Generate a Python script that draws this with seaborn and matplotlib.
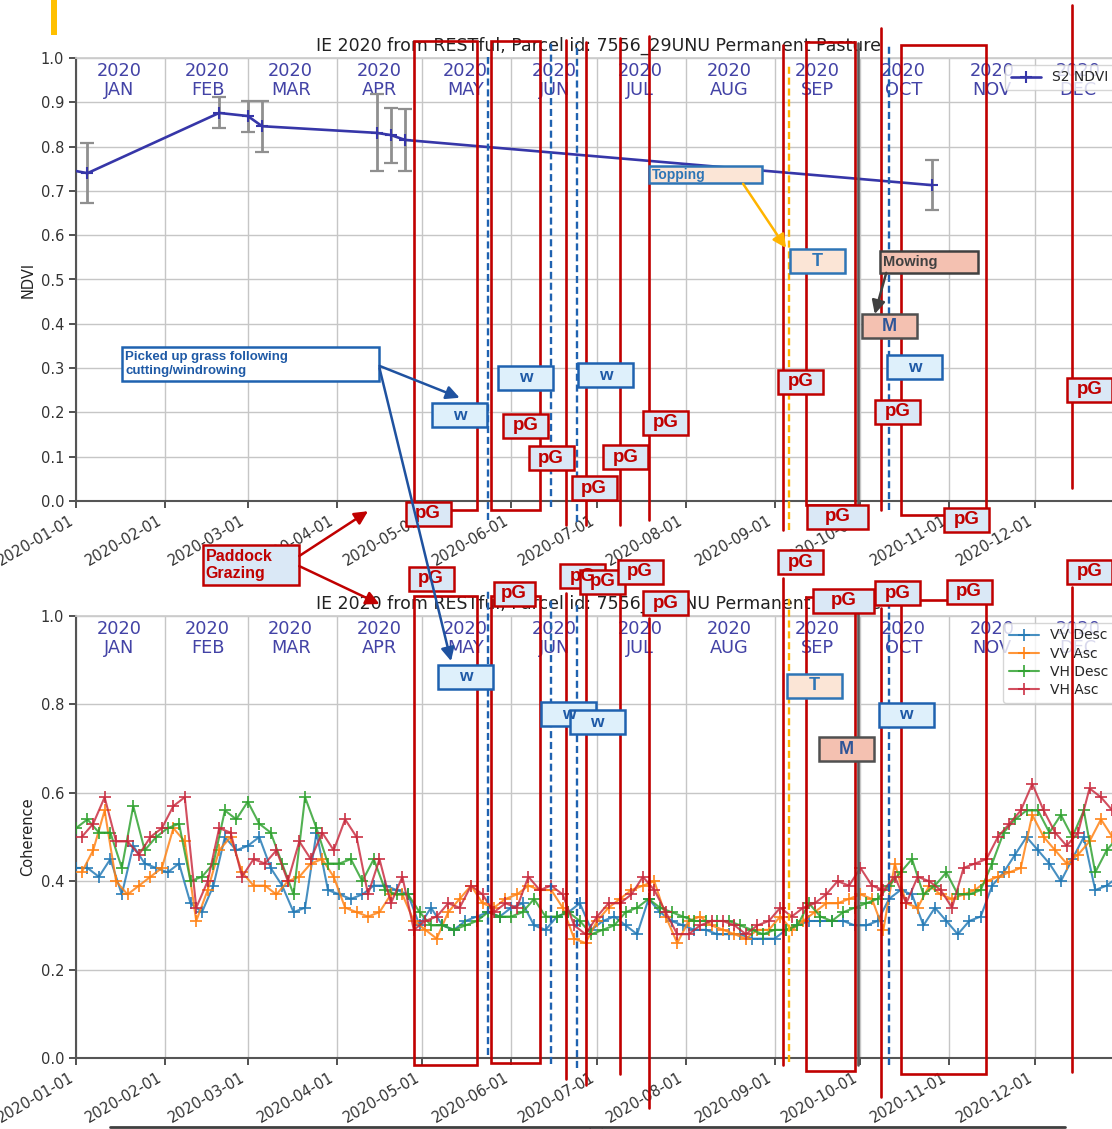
import numpy as np
import pandas as pd
import matplotlib
matplotlib.use("Agg")
import matplotlib.pyplot as plt
import matplotlib.dates as mdates
import matplotlib.transforms as mtransforms
from matplotlib.patches import Rectangle
from matplotlib.lines import Line2D
from matplotlib.ticker import FormatStrFormatter
import seaborn as sns

sns.set_theme(style="whitegrid")
plt.rcParams["font.family"] = ["DejaVu Sans"]

TITLE = "IE 2020 from RESTful, Parcel id: 7556_29UNU Permanent Pasture"
MONTHS = ["JAN", "FEB", "MAR", "APR", "MAY", "JUN",
          "JUL", "AUG", "SEP", "OCT", "NOV", "DEC"]

# ---- Sentinel-2 NDVI (parcel mean and std) ----
ndvi_dates = pd.to_datetime(["2019-12-26", "2020-01-05", "2020-02-20", "2020-03-01",
                             "2020-03-06", "2020-04-15", "2020-04-20", "2020-04-25",
                             "2020-10-26"])
ndvi_mean = [0.752, 0.740, 0.876, 0.869, 0.846, 0.831, 0.826, 0.815, 0.713]
ndvi_std = [0.060, 0.068, 0.035, 0.035, 0.058, 0.087, 0.062, 0.070, 0.057]

# ---- Sentinel-1 6-day coherence ----
desc_dates = pd.date_range("2020-01-01", periods=92, freq="4D")
asc_dates = pd.date_range("2020-01-03", periods=91, freq="4D")

vv_desc = [0.43, 0.43, 0.41, 0.45, 0.37, 0.48, 0.44, 0.43, 0.42, 0.44,
           0.35, 0.33, 0.39, 0.50, 0.47, 0.48, 0.50, 0.43, 0.39, 0.33,
           0.34, 0.51, 0.38, 0.37, 0.36, 0.37, 0.39, 0.39, 0.38, 0.37,
           0.30, 0.34, 0.30, 0.29, 0.31, 0.32, 0.33, 0.32, 0.34, 0.35,
           0.30, 0.29, 0.32, 0.33, 0.35, 0.29, 0.31, 0.32, 0.30, 0.28,
           0.36, 0.33, 0.31, 0.30, 0.29, 0.29, 0.28, 0.28, 0.28, 0.27,
           0.27, 0.27, 0.29, 0.30, 0.31, 0.31, 0.31, 0.31, 0.30, 0.30,
           0.31, 0.36, 0.38, 0.37, 0.30, 0.34, 0.31, 0.28, 0.31, 0.32,
           0.39, 0.42, 0.46, 0.50, 0.47, 0.44, 0.40, 0.45, 0.50, 0.38,
           0.39, 0.41]
vv_asc = [0.42, 0.47, 0.56, 0.40, 0.37, 0.39, 0.41, 0.43, 0.52, 0.49,
          0.31, 0.38, 0.47, 0.50, 0.42, 0.39, 0.39, 0.37, 0.40, 0.41,
          0.44, 0.45, 0.41, 0.34, 0.33, 0.32, 0.33, 0.37, 0.37, 0.31,
          0.29, 0.27, 0.33, 0.36, 0.39, 0.35, 0.34, 0.36, 0.37, 0.39,
          0.38, 0.38, 0.34, 0.27, 0.26, 0.31, 0.34, 0.36, 0.38, 0.39,
          0.40, 0.32, 0.26, 0.31, 0.32, 0.30, 0.29, 0.28, 0.27, 0.29,
          0.29, 0.32, 0.29, 0.31, 0.33, 0.35, 0.35, 0.36, 0.37, 0.36,
          0.29, 0.44, 0.35, 0.34, 0.39, 0.37, 0.36, 0.37, 0.38, 0.40,
          0.41, 0.42, 0.43, 0.55, 0.50, 0.47, 0.44, 0.46, 0.49, 0.54,
          0.50]
vh_desc = [0.52, 0.54, 0.51, 0.51, 0.43, 0.57, 0.47, 0.50, 0.52, 0.53,
           0.40, 0.41, 0.44, 0.56, 0.54, 0.58, 0.53, 0.51, 0.44, 0.37,
           0.59, 0.52, 0.44, 0.44, 0.45, 0.40, 0.45, 0.38, 0.37, 0.37,
           0.33, 0.30, 0.30, 0.29, 0.30, 0.31, 0.33, 0.32, 0.32, 0.33,
           0.36, 0.32, 0.32, 0.33, 0.31, 0.28, 0.29, 0.30, 0.33, 0.34,
           0.36, 0.34, 0.33, 0.32, 0.31, 0.31, 0.31, 0.31, 0.30, 0.29,
           0.28, 0.29, 0.29, 0.30, 0.35, 0.32, 0.31, 0.33, 0.34, 0.35,
           0.36, 0.39, 0.42, 0.45, 0.37, 0.39, 0.42, 0.37, 0.37, 0.38,
           0.44, 0.51, 0.54, 0.56, 0.56, 0.51, 0.55, 0.50, 0.56, 0.42,
           0.47, 0.50]
vh_asc = [0.50, 0.53, 0.59, 0.49, 0.49, 0.46, 0.50, 0.52, 0.57, 0.59,
          0.34, 0.40, 0.52, 0.51, 0.41, 0.45, 0.44, 0.47, 0.40, 0.49,
          0.45, 0.51, 0.47, 0.54, 0.50, 0.37, 0.45, 0.35, 0.41, 0.29,
          0.31, 0.32, 0.35, 0.34, 0.39, 0.37, 0.33, 0.35, 0.34, 0.41,
          0.38, 0.39, 0.37, 0.30, 0.28, 0.32, 0.35, 0.35, 0.37, 0.41,
          0.38, 0.33, 0.28, 0.28, 0.30, 0.31, 0.31, 0.30, 0.28, 0.30,
          0.31, 0.34, 0.32, 0.34, 0.35, 0.37, 0.40, 0.39, 0.43, 0.39,
          0.38, 0.41, 0.35, 0.41, 0.40, 0.38, 0.34, 0.43, 0.44, 0.45,
          0.50, 0.53, 0.56, 0.62, 0.56, 0.51, 0.48, 0.51, 0.61, 0.59,
          0.56]

coh_names = ["VV Desc", "VV Asc", "VH Desc", "VH Asc"]

# ---- field activity log ----
grazing_periods = [("2020-04-28", "2020-05-20"), ("2020-05-25", "2020-06-11"),
                   ("2020-09-12", "2020-09-29"), ("2020-10-15", "2020-11-14")]
grazing_days = ["2020-06-20", "2020-06-27", "2020-07-09", "2020-07-19",
                "2020-09-04", "2020-10-08", "2020-12-14"]
windrow_days = ["2020-05-24", "2020-06-15", "2020-06-24", "2020-10-11"]
topping_day = "2020-09-06"
mowing_day = "2020-09-30"

# ---- colours ----
NDVI_BLUE = "#3636a8"
MONTH_COL = "#4343a6"
RED = "#c00000"
WBLUE = "#1f62b0"
ORANGE = "#ffb400"
GREY = "#5a5a5a"
COH_COLORS = ["#1f77b4", "#ff7f0e", "#2ca02c", "#c8283c"]

DPI = 100
FW, FH = 1112, 1129
fig = plt.figure(figsize=(FW / DPI, FH / DPI), dpi=DPI)


def add_axes_px(left, top, right, bottom):
    return fig.add_axes([left / FW, 1 - bottom / FH,
                         (right - left) / FW, (bottom - top) / FH])


ax_ndvi = add_axes_px(76, 58, 1121, 501)
ax_coh = add_axes_px(76, 616, 1121, 1058)


def dn(d):
    return mdates.date2num(pd.Timestamp(d))


# ---- data ----
sns.lineplot(x=ndvi_dates, y=ndvi_mean, ax=ax_ndvi, color=NDVI_BLUE, lw=1.9,
             marker="+", ms=8, mec=NDVI_BLUE, mew=1.5, errorbar=None,
             label="S2 NDVI", zorder=4)
ax_ndvi.errorbar(ndvi_dates, ndvi_mean, yerr=ndvi_std, fmt="none",
                 ecolor="#8f8f8f", elinewidth=2, capsize=5, capthick=1.6,
                 zorder=3)

for vals, dates, name, col in zip([vv_desc, vv_asc, vh_desc, vh_asc],
                                  [desc_dates, asc_dates, desc_dates, asc_dates],
                                  coh_names, COH_COLORS):
    sns.lineplot(x=dates, y=vals, ax=ax_coh, color=col, lw=1.5, marker="+",
                 ms=9, mec=col, mew=1.4, alpha=0.82, errorbar=None,
                 label=name, zorder=3)

# ---- axes styling ----
for ax, ylab, yticks in [(ax_ndvi, "NDVI", np.arange(0, 1.01, 0.1)),
                         (ax_coh, "Coherence", np.arange(0, 1.01, 0.2))]:
    ax.set_xlim(dn("2020-01-01"), dn("2020-12-31"))
    ax.set_ylim(0, 1)
    ax.set_yticks(yticks)
    ax.yaxis.set_major_formatter(FormatStrFormatter("%.1f"))
    ax.xaxis.set_major_locator(mdates.MonthLocator())
    ax.xaxis.set_major_formatter(mdates.DateFormatter("%Y-%m-%d"))
    ax.tick_params(axis="both", labelsize=10.5, colors="#333333",
                   bottom=True, left=True, length=5, width=1.2)
    plt.setp(ax.get_xticklabels(), rotation=30, ha="right")
    ax.set_ylabel(ylab, fontsize=10.5, color="#222222")
    ax.set_xlabel("date", fontsize=10.5, color="#222222", labelpad=2)
    ax.set_title(TITLE, fontsize=12.5, color="#222222", pad=5)
    ax.grid(True, color="#c6c6c6", lw=1)
    for side in ("left", "bottom"):
        ax.spines[side].set_color("#555555")
        ax.spines[side].set_linewidth(1.5)
    for side in ("top", "right"):
        ax.spines[side].set_color("#cccccc")
    mtr = mtransforms.blended_transform_factory(ax.transData, ax.transAxes)
    for i, m in enumerate(MONTHS):
        ax.text(dn(pd.Timestamp(2020, i + 1, 16)), 0.99, f"2020\n{m}",
                transform=mtr, ha="center", va="top", fontsize=12.8,
                color=MONTH_COL, linespacing=1.05, zorder=2.5)

ax_ndvi.legend(loc="upper right", fontsize=10, framealpha=0.8,
               edgecolor="#cccccc", handlelength=2.2)
ax_coh.legend(loc="upper right", fontsize=10, framealpha=0.8,
              edgecolor="#cccccc", handlelength=2.2, labelspacing=0.3)

# ---- activity markers ----
def vline(ax, d, y0, y1, **kw):
    x = dn(d)
    ax.plot([x, x], [y0, y1], clip_on=False, **kw)


def span(ax, d0, d1, y0, y1):
    x0, x1 = dn(d0), dn(d1)
    ax.add_patch(Rectangle((x0, y0), x1 - x0, y1 - y0, fill=False,
                           edgecolor=RED, lw=1.9, clip_on=False, zorder=6))


red_kw = dict(color=RED, lw=1.9, zorder=6)
dash_kw = dict(color=WBLUE, lw=1.7, ls=(0, (3, 1.6)), zorder=6)
top_kw = dict(color=ORANGE, lw=1.7, ls=(0, (3, 1.6)), zorder=6)
mow_kw = dict(color=GREY, lw=1.9, zorder=6)

ndvi_span_y = [(-0.020, 1.038), (-0.020, 1.038), (-0.009, 1.036), (-0.032, 1.029)]
coh_span_y = [(-0.016, 1.045), (-0.011, 1.045), (-0.029, 1.043), (-0.036, 1.036)]
ndvi_graze_y = [(-0.054, 1.041), (-0.054, 1.036), (-0.054, 1.045), (-0.043, 1.050),
                (-0.065, 1.029), (-0.020, 1.068), (0.029, 1.120)]
coh_graze_y = [(-0.048, 1.052), (-0.061, 1.052), (-0.036, 1.059), (-0.113, 0.995),
               (-0.016, 1.086), (-0.088, 1.018), (-0.032, 1.066)]
ndvi_wind_y = [(-0.043, 1.002), (-0.014, 1.036), (-0.047, 1.034), (-0.020, 1.034)]
coh_wind_y = [(0.007, 1.063), (-0.014, 1.043), (-0.023, 1.025), (-0.016, 1.036)]

for ax, sy, gy, wy, ty, my in [
        (ax_ndvi, ndvi_span_y, ndvi_graze_y, ndvi_wind_y, (-0.065, 0.989), (-0.009, 1.034)),
        (ax_coh, coh_span_y, coh_graze_y, coh_wind_y, (-0.009, 1.045), (-0.016, 1.036))]:
    for (d0, d1), (y0, y1) in zip(grazing_periods, sy):
        span(ax, d0, d1, y0, y1)
    for d, (y0, y1) in zip(grazing_days, gy):
        vline(ax, d, y0, y1, **red_kw)
    for d, (y0, y1) in zip(windrow_days, wy):
        vline(ax, d, y0, y1, **dash_kw)
    vline(ax, topping_day, *ty, **top_kw)
    vline(ax, mowing_day, *my, **mow_kw)

# ---- labelled boxes ----
STYLES = {
    "pG": dict(face="#dae8f6", edge=RED, text=RED, size=13.5, w=45),
    "w": dict(face="#def0fb", edge=WBLUE, text="#1f5aa6", size=12.5, w=55),
    "T": dict(face="#fbe5d6", edge="#2e75b6", text="#2e75b6", size=13, w=55),
    "M": dict(face="#f4c1b1", edge="#505050", text="#2f5597", size=13, w=55),
}


def tag(ax, d, yv, kind, w=None, h=24, text=None):
    st = STYLES[kind]
    w = w or st["w"]
    tr = fig.dpi_scale_trans + mtransforms.ScaledTranslation(dn(d), yv, ax.transData)
    ax.add_artist(Rectangle((-w / 2 / DPI, -h / 2 / DPI), w / DPI, h / DPI,
                            transform=tr, facecolor=st["face"], edgecolor=st["edge"],
                            lw=1.8, zorder=10, clip_on=False))
    ax.text(0, 0, text or kind, transform=tr, ha="center", va="center",
            fontsize=st["size"], fontweight="bold", color=st["text"],
            family="Liberation Sans", zorder=11, clip_on=False)


def note(ax, d, yv, w, h, text, face, edge, color, size, lw=1.8):
    tr = fig.dpi_scale_trans + mtransforms.ScaledTranslation(dn(d), yv, ax.transData)
    ax.add_artist(Rectangle((-w / 2 / DPI, -h / 2 / DPI), w / DPI, h / DPI,
                            transform=tr, facecolor=face, edgecolor=edge,
                            lw=lw, zorder=10, clip_on=False))
    ax.text((-w / 2 + 3) / DPI, 0, text, transform=tr, ha="left", va="center",
            fontsize=size, fontweight="bold", color=color, linespacing=1.15,
            family="Liberation Sans", zorder=11, clip_on=False)


ndvi_tags = [
    ("w", "2020-05-14", 0.194), ("w", "2020-06-06", 0.278),
    ("w", "2020-07-04", 0.284), ("w", "2020-10-20", 0.302),
    ("T", "2020-09-16", 0.541), ("M", "2020-10-11", 0.395),
    ("pG", "2020-09-10", 0.269), ("pG", "2020-06-06", 0.170),
    ("pG", "2020-06-15", 0.097), ("pG", "2020-06-30", 0.029),
    ("pG", "2020-07-11", 0.099), ("pG", "2020-07-25", 0.177),
    ("pG", "2020-10-14", 0.201), ("pG", "2020-12-20", 0.251),
    ("pG", "2020-05-03", -0.029), ("pG", "2020-09-23", -0.035, 61),
    ("pG", "2020-11-07", -0.042),
]
coh_tags = [
    ("w", "2020-05-16", 0.862), ("w", "2020-06-21", 0.778),
    ("w", "2020-07-01", 0.760), ("T", "2020-09-15", 0.842),
    ("M", "2020-09-26", 0.698), ("w", "2020-10-17", 0.777),
    ("pG", "2020-05-04", 1.084), ("pG", "2020-09-10", 1.122),
    ("pG", "2020-06-02", 1.050, 41), ("pG", "2020-06-26", 1.090),
    ("pG", "2020-07-03", 1.078), ("pG", "2020-07-16", 1.100),
    ("pG", "2020-07-25", 1.029), ("pG", "2020-09-25", 1.035, 61),
    ("pG", "2020-10-14", 1.052), ("pG", "2020-11-08", 1.055),
    ("pG", "2020-12-20", 1.100),
]
for ax, tags in [(ax_ndvi, ndvi_tags), (ax_coh, coh_tags)]:
    for t in tags:
        tag(ax, t[1], t[2], t[0], w=(t[3] if len(t) > 3 else None))

note(ax_ndvi, "2020-08-08", 0.737, 113, 17, "Topping", "#fbe5d6", "#2e75b6", "#2e75b6", 10)
note(ax_ndvi, "2020-10-25", 0.540, 98, 22, "Mowing", "#f4c1b1", "#404040", "#404040", 10.5)
note(ax_ndvi, "2020-03-02", 0.309, 257, 34, "Picked up grass following\ncutting/windrowing",
     "white", WBLUE, "#1f5aa6", 9.5)
note(ax_ndvi, "2020-03-02", -0.144, 96, 40, "Paddock\nGrazing", "#dae8f6", RED, RED, 11.5)


def arrow(ax, d_from, y_from, d_to, y_to, color, src=None):
    ax.annotate("", xy=(dn(d_to), y_to), xycoords="data",
                xytext=(dn(d_from), y_from),
                textcoords=(src.transData if src is not None else "data"),
                arrowprops=dict(arrowstyle="-|>", color=color, lw=1.8,
                                mutation_scale=20, shrinkA=0, shrinkB=0),
                annotation_clip=False, zorder=12)


arrow(ax_ndvi, "2020-08-21", 0.716, "2020-09-05", 0.571, ORANGE)
arrow(ax_ndvi, "2020-10-10", 0.515, "2020-10-06", 0.422, "#404040")
arrow(ax_ndvi, "2020-04-16", 0.305, "2020-05-14", 0.233, "#1f52a0")
arrow(ax_coh, "2020-04-16", 0.300, "2020-05-11", 0.898, "#1f52a0", src=ax_ndvi)
arrow(ax_ndvi, "2020-03-19", -0.124, "2020-04-12", -0.023, RED)
arrow(ax_coh, "2020-03-19", -0.147, "2020-04-16", 1.027, RED, src=ax_ndvi)

# ---- page decorations ----
fig.add_artist(Rectangle((51 / FW, 1 - 35 / FH), 6 / FW, 35 / FH,
                         transform=fig.transFigure, color="#ffc000", lw=0))
fig.add_artist(Line2D([110 / FW, 1065 / FW], [1 - 1127 / FH] * 2,
                      transform=fig.transFigure, color="#404040", lw=2))

fig.savefig("out.png", dpi=DPI)
